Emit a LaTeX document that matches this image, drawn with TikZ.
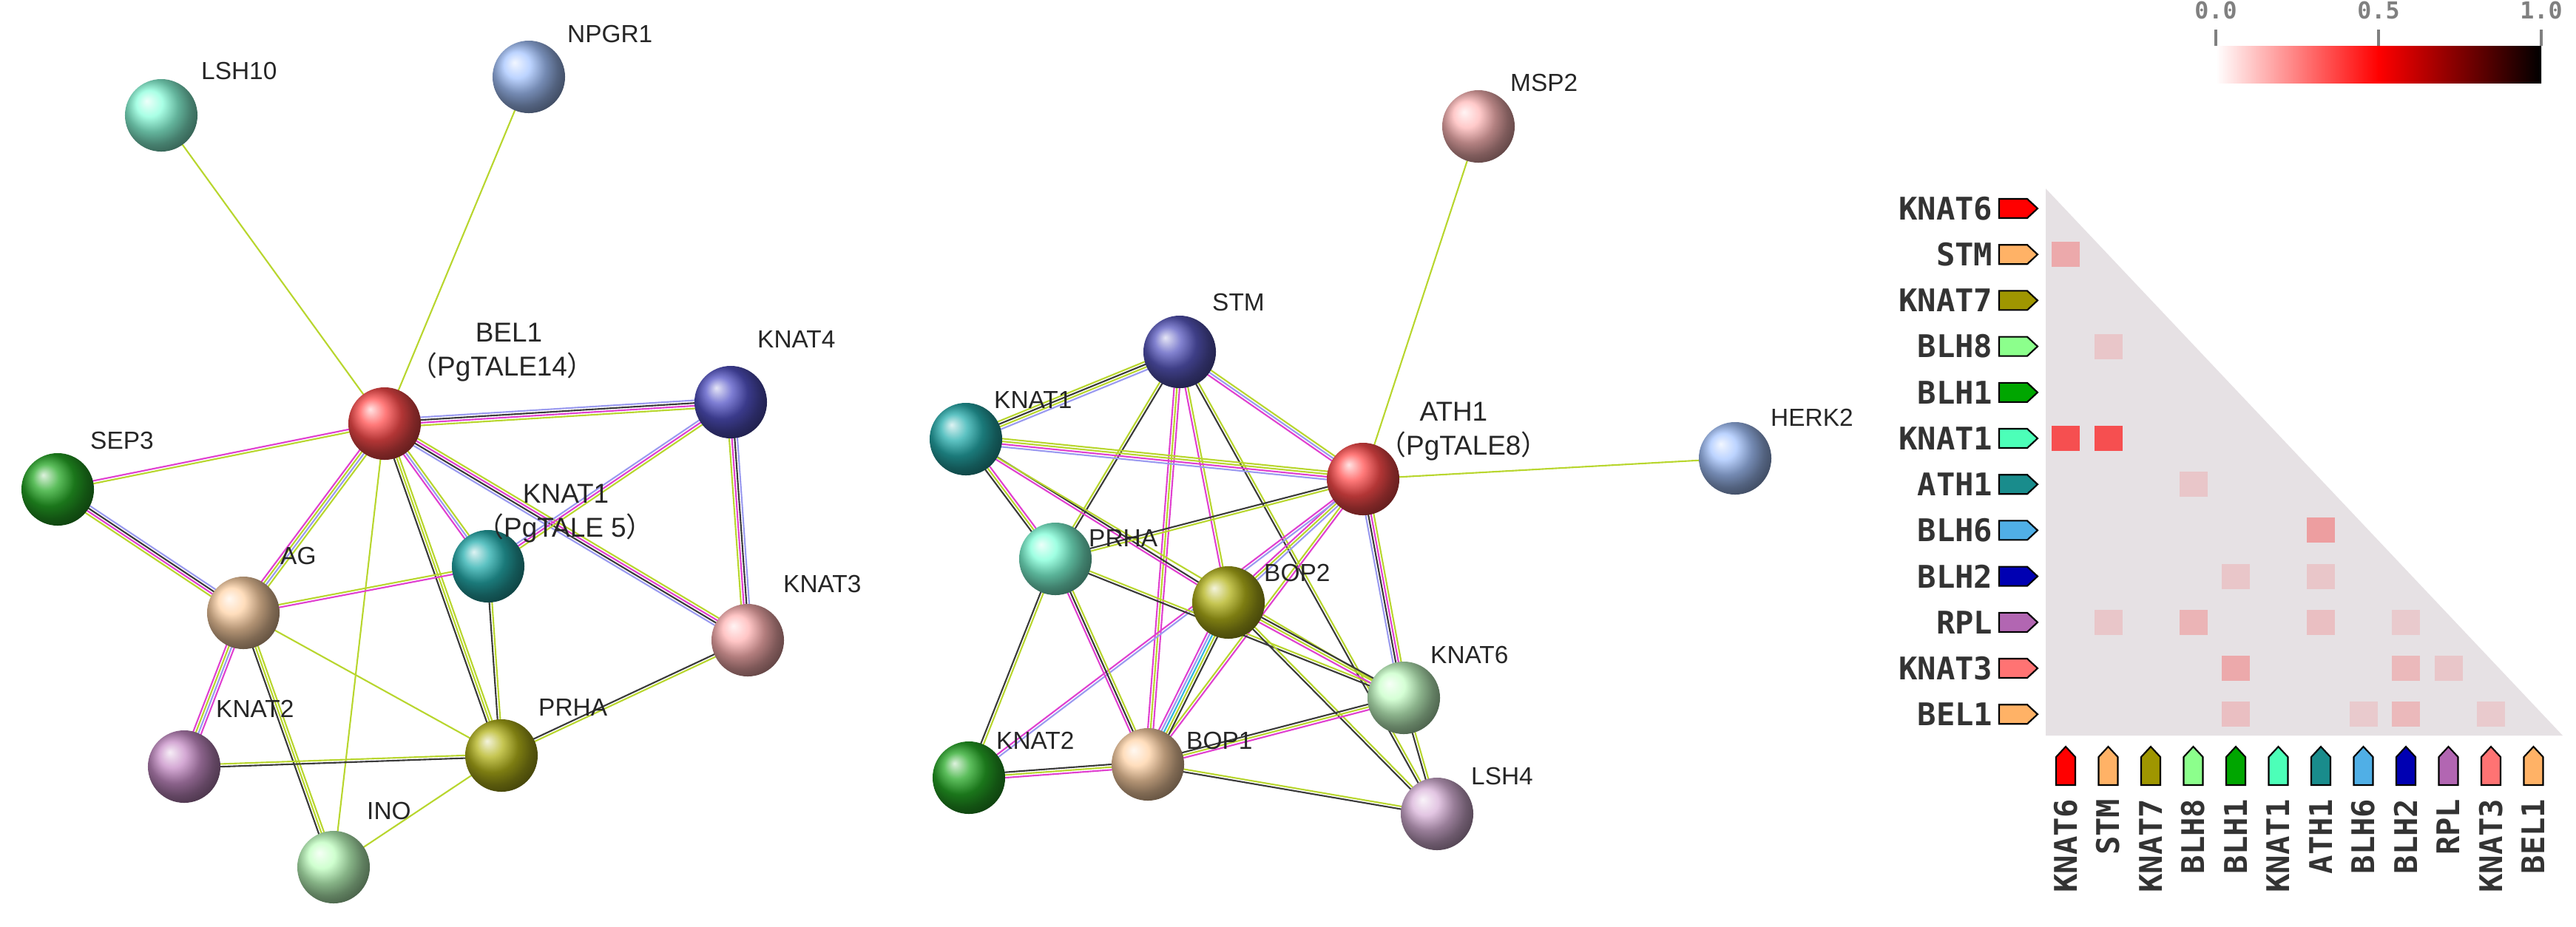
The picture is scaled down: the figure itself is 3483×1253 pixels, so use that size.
\documentclass[tikz,border=0pt]{standalone}
\usepackage{fontspec}
\setmainfont{Liberation Sans}
\newfontfamily\monof{DejaVu Sans Mono}
\newfontfamily\cjk{Noto Sans CJK SC}
\usetikzlibrary{calc,backgrounds}
\definecolor{yg}{HTML}{B8D62E}
\definecolor{mg}{HTML}{E040D0}
\definecolor{bk}{HTML}{3A3A3A}
\definecolor{bl}{HTML}{9A9AF0}
\definecolor{cy}{HTML}{30B8E0}
\definecolor{tri}{HTML}{E6E1E4}
\newcommand\lnk[4]{%
  \foreach \c [count=\k] in {#4} {%
    \pgfmathsetmacro\o{(\k-(#3+1)/2)*1.05}%
    \draw[\c,line width=0.6pt] ($(#1.center)!\o pt!90:(#2.center)$) -- ($(#2.center)!\o pt!-90:(#1.center)$);
  }}
\newcommand\harr[3]{% x y color : right-pointing tag
  \draw[black,line width=0.6pt,fill=#3] (#1,#2-13) -- (#1+38,#2-13) -- (#1+52,#2) -- (#1+38,#2+13) -- (#1,#2+13) -- cycle;}
\newcommand\varr[3]{% x y color : up-pointing tag, (x,y) bottom centre
  \draw[black,line width=0.6pt,fill=#3] (#1-13,#2) -- (#1-13,#2-38) -- (#1,#2-52) -- (#1+13,#2-38) -- (#1+13,#2) -- cycle;}
\begin{document}
\begin{tikzpicture}[x=0.01cm,y=-0.01cm,
  prot/.style={circle,minimum size=0.98cm,inner sep=0pt,shading=ball,ball color=#1},
  lab/.style={font=\fontsize{9.5}{11}\selectfont,text=black!85,inner sep=1pt},
  hl/.style={font=\monof\bfseries\fontsize{12}{14}\selectfont,text=black!80,inner sep=0pt},
  cell/.style={fill=#1,draw=none}]
\useasboundingbox (0,0) rectangle (3483,1253);
% ---------- left network
\node[prot=green!30!cyan!45!white] (lLSH10) at (218,156) {};
\node[prot=cyan!35!blue!35!white] (lNPGR1) at (715,104) {};
\node[prot=red!70!white] (lBEL1) at (520,573) {};
\node[prot=blue!50!gray!90!white] (lKNAT4) at (988,544) {};
\node[prot=green!60!black!85!white] (lSEP3) at (78,662) {};
\node[prot=teal!75!cyan!85!white] (lKNAT1) at (660,766) {};
\node[prot=orange!35!white] (lAG) at (329,829) {};
\node[prot=red!30!white] (lKNAT3) at (1011,866) {};
\node[prot=violet!45!white] (lKNAT2) at (249,1037) {};
\node[prot=olive!60!white] (lPRHA) at (678,1022) {};
\node[prot=green!25!white] (lINO) at (451,1173) {};
\node[lab,anchor=south west] (tLSH10) at (268,112) {LSH10};
\node[lab,anchor=south west] (tNPGR1) at (763,62) {NPGR1};
\node[lab,anchor=south west,align=left,font=\fontsize{10.5}{13}\selectfont] (tBEL1) at (550,520) {\hspace*{2.4em}BEL1\\{\cjk （}PgTALE14{\cjk ）}};
\node[lab,anchor=south west] (tKNAT4) at (1020,475) {KNAT4};
\node[lab,anchor=south west] (tSEP3) at (118,612) {SEP3};
\node[lab,anchor=south west,align=left,font=\fontsize{10.5}{13}\selectfont] (tKNAT1) at (640,738) {\hspace*{1.7em}KNAT1\\{\cjk （}PgTALE 5{\cjk ）}};
\node[lab,anchor=south west] (tAG) at (375,768) {AG};
\node[lab,anchor=south west] (tKNAT3) at (1055,806) {KNAT3};
\node[lab,anchor=south west] (tKNAT2) at (288,975) {KNAT2};
\node[lab,anchor=south west] (tPRHA) at (724,973) {PRHA};
\node[lab,anchor=south west] (tINO) at (492,1113) {INO};
\begin{pgfonlayer}{background}
\lnk{lLSH10}{lBEL1}{1}{yg}
\lnk{lNPGR1}{lBEL1}{1}{yg}
\lnk{lBEL1}{lKNAT4}{4}{yg,mg,bk,bl}
\lnk{lBEL1}{lSEP3}{2}{mg,yg}
\lnk{lBEL1}{lAG}{4}{mg,yg,bl,yg}
\lnk{lBEL1}{lINO}{1}{yg}
\lnk{lBEL1}{lKNAT1}{3}{mg,bl,yg}
\lnk{lBEL1}{lPRHA}{3}{bk,yg,yg}
\lnk{lBEL1}{lKNAT3}{4}{bl,bk,mg,yg}
\lnk{lKNAT4}{lKNAT1}{3}{bl,mg,yg}
\lnk{lKNAT4}{lKNAT3}{4}{yg,mg,bk,bl}
\lnk{lSEP3}{lAG}{4}{yg,mg,bk,bl}
\lnk{lAG}{lKNAT1}{2}{mg,yg}
\lnk{lAG}{lKNAT2}{4}{mg,yg,bl,mg}
\lnk{lAG}{lPRHA}{1}{yg}
\lnk{lAG}{lINO}{3}{bk,yg,yg}
\lnk{lKNAT1}{lPRHA}{2}{bk,yg}
\lnk{lKNAT3}{lPRHA}{2}{bk,yg}
\lnk{lKNAT2}{lPRHA}{2}{bk,yg}
\lnk{lINO}{lPRHA}{1}{yg}
\end{pgfonlayer}
% ---------- middle network
\node[prot=red!28!white] (mMSP2) at (1999,171) {};
\node[prot=blue!45!gray!90!white] (mSTM) at (1595,476) {};
\node[prot=teal!75!cyan!85!white] (mKNAT1) at (1306,594) {};
\node[prot=red!70!white] (mATH1) at (1843,648) {};
\node[prot=cyan!35!blue!35!white] (mHERK2) at (2346,620) {};
\node[prot=green!30!cyan!50!white] (mPRHA) at (1427,756) {};
\node[prot=olive!60!white] (mBOP2) at (1661,815) {};
\node[prot=green!22!white] (mKNAT6) at (1898,944) {};
\node[prot=green!60!black!85!white] (mKNAT2) at (1310,1052) {};
\node[prot=orange!35!white] (mBOP1) at (1552,1034) {};
\node[prot=violet!30!white] (mLSH4) at (1943,1101) {};
\node[lab,anchor=south west] (tMSP2) at (2038,128) {MSP2};
\node[lab,anchor=south west] (tSTM) at (1635,425) {STM};
\node[lab,anchor=south west] (tmKNAT1) at (1340,557) {KNAT1};
\node[lab,anchor=south west,align=left,font=\fontsize{10.5}{13}\selectfont] (tATH1) at (1860,627) {\hspace*{1.5em}ATH1\\{\cjk （}PgTALE8{\cjk ）}};
\node[lab,anchor=south west] (tHERK2) at (2390,581) {HERK2};
\node[lab,anchor=south west] (tmPRHA) at (1468,744) {PRHA};
\node[lab,anchor=south west] (tBOP2) at (1705,791) {BOP2};
\node[lab,anchor=south west] (tKNAT6) at (1930,902) {KNAT6};
\node[lab,anchor=south west] (tmKNAT2) at (1343,1018) {KNAT2};
\node[lab,anchor=south west] (tBOP1) at (1600,1018) {BOP1};
\node[lab,anchor=south west] (tLSH4) at (1985,1066) {LSH4};
\begin{pgfonlayer}{background}
\lnk{mMSP2}{mATH1}{1}{yg}
\lnk{mHERK2}{mATH1}{1}{yg}
\lnk{mSTM}{mKNAT1}{4}{yg,bk,yg,bl}
\lnk{mSTM}{mATH1}{3}{mg,bl,yg}
\lnk{mSTM}{mPRHA}{2}{yg,bk}
\lnk{mSTM}{mBOP2}{2}{mg,yg}
\lnk{mSTM}{mBOP1}{3}{mg,yg,mg}
\lnk{mSTM}{mLSH4}{2}{bk,yg}
\lnk{mKNAT1}{mATH1}{4}{bl,mg,yg,yg}
\lnk{mKNAT1}{mPRHA}{3}{bk,yg,mg}
\lnk{mKNAT1}{mBOP2}{2}{mg,bk}
\lnk{mKNAT1}{mKNAT6}{1}{yg}
\lnk{mATH1}{mPRHA}{2}{bk,yg}
\lnk{mATH1}{mBOP2}{3}{mg,yg,bl}
\lnk{mATH1}{mKNAT2}{2}{mg,bl}
\lnk{mATH1}{mBOP1}{2}{yg,mg}
\lnk{mATH1}{mKNAT6}{4}{bl,bk,mg,yg}
\lnk{mPRHA}{mKNAT2}{2}{bk,yg}
\lnk{mPRHA}{mBOP1}{3}{mg,bk,yg}
\lnk{mPRHA}{mKNAT6}{2}{bk,yg}
\lnk{mBOP2}{mBOP1}{5}{mg,bl,cy,yg,bk}
\lnk{mBOP2}{mKNAT6}{3}{mg,yg,bk}
\lnk{mBOP2}{mLSH4}{2}{bk,yg}
\lnk{mKNAT2}{mBOP1}{3}{mg,yg,bk}
\lnk{mBOP1}{mKNAT6}{3}{mg,yg,bk}
\lnk{mBOP1}{mLSH4}{2}{bk,yg}
\lnk{mKNAT6}{mLSH4}{2}{bk,yg}
\end{pgfonlayer}
% ---------- heatmap
\shade[left color=white,right color=red] (2996,62) rectangle (3216,112);
\shade[left color=red,right color=black] (3216,62) rectangle (3436,112);
\foreach \x/\t in {2996/0.0,3216/0.5,3436/1.0}{
  \draw[gray,line width=1pt] (\x,40) -- (\x,62);
  \node[font=\monof\bfseries\fontsize{9}{10}\selectfont,text=gray,anchor=south] at (\x,38) {\t};}
\fill[tri] (2766,255) -- (3465,995) -- (2766,995) -- cycle;
\foreach \n/\c [count=\i from 0] in {KNAT6/red,STM/orange!60!white,KNAT7/olive!85!yellow,BLH8/green!45!white,BLH1/green!65!black,KNAT1/green!40!cyan!70!white,ATH1/teal!90!white,BLH6/cyan!80!blue!70!white,BLH2/blue!70!black,RPL/violet!60!white,KNAT3/red!55!white,BEL1/orange!60!white}{
  \pgfmathsetmacro\yy{282+62.2*\i}
  \pgfmathsetmacro\xx{2793+57.5*\i}
  \node[hl,anchor=east] (r\i) at (2695,\yy) {\n};
  \harr{2703}{\yy}{\c}
  \varr{\xx}{1062}{\c}
  \node[hl,rotate=90,anchor=east] (c\i) at (\xx,1080) {\n};
}
\newcommand\cl[3]{\fill[red!#3!tri] ({2793+57.5*#2-19},{282+62.2*#1-17}) rectangle ++(38,34);}
\cl{1}{0}{25}\cl{3}{1}{12}\cl{5}{0}{65}\cl{5}{1}{65}\cl{6}{3}{12}
\cl{7}{6}{30}\cl{8}{4}{12}\cl{8}{6}{12}\cl{9}{1}{12}\cl{9}{3}{20}\cl{9}{6}{15}\cl{9}{8}{10}
\cl{10}{4}{25}\cl{10}{8}{18}\cl{10}{9}{12}\cl{11}{4}{15}\cl{11}{7}{10}\cl{11}{8}{18}\cl{11}{10}{10}
\end{tikzpicture}
\end{document}
